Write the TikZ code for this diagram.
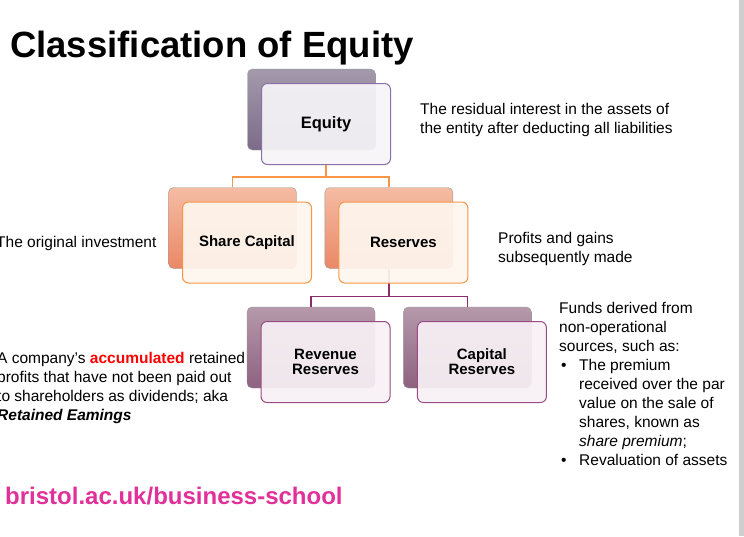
\documentclass[tikz,border=0pt]{standalone}
\usepackage{fontspec}
\setmainfont{Liberation Sans}
\usepackage{xcolor}
\definecolor{eqline}{HTML}{8A72A6}
\definecolor{eqtop}{HTML}{A39AAB}
\definecolor{eqbot}{HTML}{7C6B89}
\definecolor{ortop}{HTML}{F5BCA4}
\definecolor{orbot}{HTML}{EA8866}
\definecolor{orline}{HTML}{F79646}
\definecolor{mvtop}{HTML}{B699AB}
\definecolor{mvbot}{HTML}{8D6280}
\definecolor{mvline}{HTML}{9B4B84}
\definecolor{plumline}{HTML}{8B2D6D}
\definecolor{webpink}{HTML}{E2309A}
\usetikzlibrary{positioning}
\tikzset{
  backbox/.style  = {rectangle, rounded corners=5pt, draw=black!40,
                     minimum width=128pt, minimum height=81pt, inner sep=0pt},
  frontbox/.style = {rectangle, rounded corners=6pt, line width=1pt,
                     minimum width=129pt, minimum height=81pt, inner sep=0pt,
                     fill opacity=0.93, text opacity=1, align=center,
                     font=\fontsize{15}{15}\selectfont\bfseries},
  eqback/.style   = {backbox, top color=eqtop, bottom color=eqbot},
  orback/.style   = {backbox, top color=ortop, bottom color=orbot},
  mvback/.style   = {backbox, top color=mvtop, bottom color=mvbot},
  eqfront/.style  = {frontbox, draw=eqline, fill=eqline!8},
  orfront/.style  = {frontbox, draw=orline, fill=orline!9},
  mvfront/.style  = {frontbox, draw=mvline, fill=mvline!8},
  note/.style     = {font=\fontsize{15.5}{19}\selectfont, align=left,
                     inner sep=0pt, anchor=north west},
  orarr/.style    = {draw=orline, line width=1.3pt},
  mvarr/.style    = {draw=plumline, line width=1.3pt}
}

\begin{document}
\begin{tikzpicture}[x=1pt, y=-1pt, node distance=28pt]
  \useasboundingbox (0,0) rectangle (744,536);
  \fill[black!19] (739,0) rectangle (744,536);

  \node[anchor=base west, inner sep=0pt, font=\fontsize{36.5}{36.5}\selectfont\bfseries]
    (title) at (10,57) {Classification of Equity};

  % back boxes
  \node[eqback] (eqb) at (311.5,109.5) {};
  \node[orback] (scb) at (232.5,228) {};
  \node[orback, right=of scb] (resb) {};
  \node[mvback] (revb) at (311,347.5) {};
  \node[mvback, right=of revb] (capb) {};

  \node[eqfront, shift={(14.5,14.5)}, font=\fontsize{16.5}{16.5}\selectfont\bfseries]
    (eqf) at (eqb) {Equity};

  % connectors
  \coordinate (eqjoin) at ([yshift=-12pt]eqf.south);
  \draw[orarr] (eqf.south) -- (eqjoin) -| (scb.north);
  \draw[orarr] (eqjoin) -| (resb.north);
  \coordinate (resjoin) at ([yshift=-27.5pt]resb.south);
  \draw[mvarr] (resb.south) -- (resjoin) -| (revb.north);
  \draw[mvarr] (resjoin) -| (capb.north);

  % front boxes
  \node[orfront, shift={(14.5,14.5)}] (scf)  at (scb)  {Share Capital};
  \node[orfront, shift={(14.5,14.5)}] (resf) at (resb) {Reserves};
  \node[mvfront, shift={(14.5,14.5)}] (revf) at (revb) {Revenue\\Reserves};
  \node[mvfront, shift={(14.5,14.5)}] (capf) at (capb) {Capital\\Reserves};

  % notes
  \node[note] (eqnote) at (420,103)
    {The residual interest in the assets of\\the entity after deducting all liabilities};
  \node[note] (scnote) at (-4,236.5) {The original investment};
  \node[note] (resnote) at (498,232) {Profits and gains\\subsequently made};
  \node[note] (revnote) at (-3,352.5)
    {A company's \textcolor{red}{\textbf{accumulated}} retained\\
     profits that have not been paid out\\
     to shareholders as dividends; aka\\
     \textbf{\textit{Retained Eamings}}};
  \node[note] (capnote) at (559,302.5)
    {Funds derived from\\non-operational\\sources, such as:\\
     \makebox[20pt][l]{\hspace*{2pt}\textbullet}The premium\\
     \hspace*{20pt}received over the par\\
     \hspace*{20pt}value on the sale of\\
     \hspace*{20pt}shares, known as\\
     \hspace*{20pt}\textit{share premium};\\
     \makebox[20pt][l]{\hspace*{2pt}\textbullet}Revaluation of assets};

  \node[anchor=base west, inner sep=0pt, text=webpink,
        font=\fontsize{24}{24}\selectfont\bfseries]
    (web) at (5,504) {bristol.ac.uk/business-school};
\end{tikzpicture}
\end{document}
